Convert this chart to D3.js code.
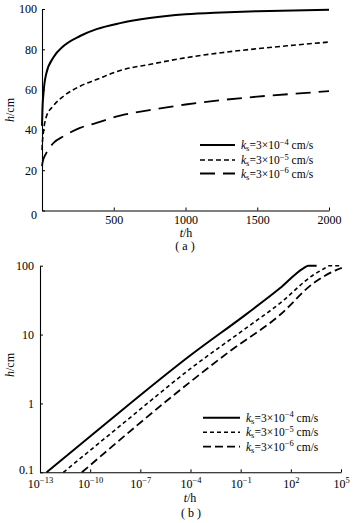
<!DOCTYPE html>
<html><head><meta charset="utf-8">
<script src="https://cdn.jsdelivr.net/npm/d3@7"></script>
<style>
body{margin:0;background:#fff}
svg{display:block}
text{font-family:"Liberation Serif","DejaVu Serif",serif;fill:#000}
</style>
</head><body>
<svg id="c" width="358" height="523"></svg>
<script>
// ---------- data: chart (a) ----------
const tA = [0, 3, 10, 30, 80, 150, 265, 380, 545, 750, 1000, 1250, 1500, 1750, 2000];
const hA_ks4 = [42, 50, 58, 68, 76, 81.6, 86.6, 90, 93, 95.5, 97.4, 98.3, 98.9, 99.3, 99.6];
const hA_ks5 = [30, 34, 39, 46.5, 52, 56.7, 61.7, 65, 69.5, 72.5, 75.8, 78.3, 80.3, 82, 83.6];
const hA_ks6 = [22, 23.5, 25.5, 28.5, 33.5, 36.8, 41, 43.5, 47.1, 49.8, 52.6, 54.8, 56.5, 57.9, 59.2];
const xTicksA = [500, 1000, 1500, 2000];
const yTicksA = [0, 20, 40, 60, 80, 100];

// ---------- data: chart (b) ----------
const tB_ks4 = [2.5e-13, 3.9e-10, 1e-4, 0.23, 22, 560, 1120, 3500];
const hB_ks4 = [0.1, 0.436, 5.0, 20, 47, 91.6, 100, 100];
const tB_ks5 = [2.5e-12, 1e-8, 1e-4, 0.23, 22, 2200, 1e4, 2e4, 1.12e5];
const hB_ks5 = [0.1, 0.52, 3.2, 12.6, 28.4, 73.3, 91.2, 100, 100];
const tB_ks6 = [3.2e-11, 9.3e-5, 0.023, 22, 2200, 55000, 112000];
const hB_ks6 = [0.1, 2.04, 5.75, 19.2, 55.5, 87, 93];
const xTicksB = [1e-13, 1e-10, 1e-7, 1e-4, 1e-1, 1e2, 1e5];
const xTickExpB = ["\u221213", "\u221210", "\u22127", "\u22124", "\u22121", "2", "5"];
const yTicksB = [0.1, 1, 10, 100];
const yTickLabB = ["0.1", "1", "10", "100"];

const legendExp = ["\u22124", "\u22125", "\u22126"];

// ---------- styles ----------
const dashA = [null, "5,3", "15,8"];
const dashB = [null, "4,3", "8,4"];
const widths = [2, 1.6, 1.8];
const FS = 12;

const svg = d3.select("#c");

function legend(g, x0, x1, ys, dashes) {
  ys.forEach((y, i) => {
    g.append("line").attr("x1", x0).attr("x2", x1).attr("y1", y).attr("y2", y)
      .attr("stroke", "#000").attr("stroke-width", widths[i])
      .attr("stroke-dasharray", dashes[i]);
    const t = g.append("text").attr("x", x1 + 6).attr("y", y + 4).attr("font-size", 11.5);
    t.append("tspan").attr("font-style", "italic").text("k");
    t.append("tspan").attr("font-size", 8.5).attr("dy", 2).text("s");
    t.append("tspan").attr("dy", -2).text("=3\u00d710");
    t.append("tspan").attr("font-size", 8.5).attr("dy", -4.5).text(legendExp[i]);
    t.append("tspan").attr("dy", 4.5).text(" cm/s");
  });
}

// ================= chart (a) =================
{
  const x = d3.scaleLinear().domain([0, 2000]).range([42, 329]);
  const y = d3.scaleLinear().domain([0, 100]).range([210.5, 9]);
  const g = svg.append("g");

  const ax = g.append("g").attr("transform", `translate(0,${y(0)})`)
    .call(d3.axisBottom(x).tickValues(xTicksA).tickSizeInner(-3).tickSizeOuter(0).tickPadding(5).tickFormat(d3.format("d")));
  const ay = g.append("g").attr("transform", `translate(${x(0)},0)`)
    .call(d3.axisLeft(y).tickValues(yTicksA).tickSizeInner(-3).tickSizeOuter(0).tickPadding(5).tickFormat(d3.format("d")));
  [ax, ay].forEach(a => {
    a.select(".domain").attr("stroke", "#000").attr("stroke-width", 1.1);
    a.selectAll(".tick line").attr("stroke", "#000");
    a.selectAll("text").attr("font-size", FS).attr("font-family", "Liberation Serif");
  });
  ay.selectAll(".tick").filter(d => d === 0).select("text").attr("dy", "0.7em");

  const series = [hA_ks4, hA_ks5, hA_ks6];
  const line = d3.line().x((d, i) => x(tA[i])).y(d => y(d)).curve(d3.curveMonotoneX);
  series.forEach((s, i) => {
    g.append("path").datum(s).attr("d", line).attr("fill", "none")
      .attr("stroke", "#000").attr("stroke-width", widths[i])
      .attr("stroke-dasharray", dashA[i]);
  });

  const xl = g.append("text").attr("x", 186).attr("y", 237).attr("text-anchor", "middle").attr("font-size", FS);
  xl.append("tspan").attr("font-style", "italic").text("t");
  xl.append("tspan").text("/h");
  g.append("text").attr("x", 185).attr("y", 250).attr("text-anchor", "middle").attr("font-size", FS).text("( a )");
  const yl = g.append("text").attr("transform", "translate(14,110) rotate(-90)").attr("text-anchor", "middle").attr("font-size", FS);
  yl.append("tspan").attr("font-style", "italic").text("h");
  yl.append("tspan").text("/cm");

  legend(g, 200, 235, [145, 160, 173.5], dashA);
}

// ================= chart (b) =================
{
  const x = d3.scaleLog().domain([1e-13, 1e5]).range([40, 341]);
  const y = d3.scaleLog().domain([0.1, 100]).range([472.3, 265.7]);
  const g = svg.append("g");

  const ax = g.append("g").attr("transform", `translate(0,${y(0.1)})`)
    .call(d3.axisBottom(x).tickValues(xTicksB).tickSizeInner(-3).tickSizeOuter(0).tickPadding(6).tickFormat(() => ""));
  const ay = g.append("g").attr("transform", `translate(${x(1e-13)},0)`)
    .call(d3.axisLeft(y).tickValues(yTicksB).tickSizeInner(-3).tickSizeOuter(0).tickPadding(6).tickFormat((d, i) => yTickLabB[i]));
  [ax, ay].forEach(a => {
    a.select(".domain").attr("stroke", "#000").attr("stroke-width", 1.1);
    a.selectAll(".tick line").attr("stroke", "#000");
    a.selectAll("text").attr("font-size", FS).attr("font-family", "Liberation Serif");
  });
  ay.selectAll(".tick").filter(d => d === 0.1).select("text").attr("dy", "0.1em");
  ax.selectAll(".tick text").each(function (d, i) {
    const t = d3.select(this).attr("dy", null).attr("y", 15.5);
    t.append("tspan").text("10");
    t.append("tspan").attr("font-size", 8.5).attr("dy", -5).text(xTickExpB[i]);
  });

  const sets = [[tB_ks4, hB_ks4], [tB_ks5, hB_ks5], [tB_ks6, hB_ks6]];
  sets.forEach(([ts, hs], i) => {
    const line = d3.line().x((d, j) => x(ts[j])).y(d => y(d)).curve(d3.curveMonotoneX);
    g.append("path").datum(hs).attr("d", line).attr("fill", "none")
      .attr("stroke", "#000").attr("stroke-width", widths[i])
      .attr("stroke-dasharray", dashB[i]);
  });

  const xl = g.append("text").attr("x", 190).attr("y", 502).attr("text-anchor", "middle").attr("font-size", FS);
  xl.append("tspan").attr("font-style", "italic").text("t");
  xl.append("tspan").text("/h");
  g.append("text").attr("x", 191).attr("y", 517).attr("text-anchor", "middle").attr("font-size", FS).text("( b )");
  const yl = g.append("text").attr("transform", "translate(14,365) rotate(-90)").attr("text-anchor", "middle").attr("font-size", FS);
  yl.append("tspan").attr("font-style", "italic").text("h");
  yl.append("tspan").text("/cm");

  legend(g, 203, 240, [417.7, 432.3, 446.7], dashB);
}
</script>
</body></html>
